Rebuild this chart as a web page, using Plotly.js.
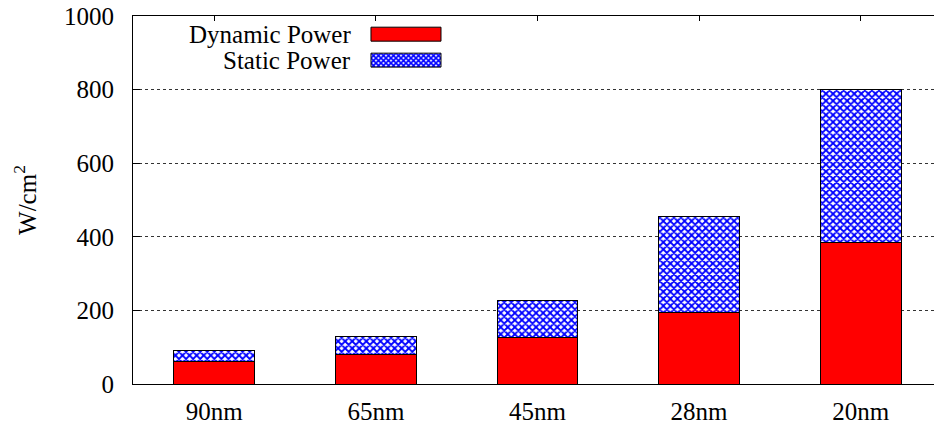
<!DOCTYPE html>
<html>
<head>
<meta charset="utf-8">
<script src="https://cdn.plot.ly/plotly-3.0.1.min.js"></script>
<style>html,body{margin:0;padding:0;background:#fff;}#chart{width:934px;height:427px;}</style>
</head>
<body>
<div id="chart"></div>
<script>
const categories = ["90nm", "65nm", "45nm", "28nm", "20nm"];
const dynamicPower = [60, 81, 126, 195, 385];
const staticPower = [30, 48, 102, 260, 415];
const seriesNames = ["Dynamic Power", "Static Power"];
const yTicks = [0, 200, 400, 600, 800, 1000];

const FONT = "Liberation Serif";
const FS = 25;

const traces = [
  {
    type: "bar", x: categories, y: dynamicPower, name: seriesNames[0],
    width: 0.5,
    marker: {color: "#ff0000", line: {color: "#000000", width: 1}},
    showlegend: false, hoverinfo: "skip"
  },
  {
    type: "bar", x: categories, y: staticPower, name: seriesNames[1],
    width: 0.5,
    marker: {
      color: "#ffffff",
      line: {color: "#000000", width: 1},
      pattern: {shape: "x", fgcolor: "#0000ff", bgcolor: "#ffffff", size: 5, solidity: 0.6}
    },
    showlegend: false, hoverinfo: "skip"
  }
];

const svg = "<svg xmlns='http://www.w3.org/2000/svg' width='70' height='14'><defs><pattern id='p' width='5' height='5' patternUnits='userSpaceOnUse'><rect width='5' height='5' fill='white'/><path d='M0,0L5,5M5,0L0,5' stroke='blue' stroke-width='1.6'/></pattern></defs><rect width='70' height='14' fill='url(#p)'/></svg>";
const svgUri = "data:image/svg+xml;charset=utf-8," + encodeURIComponent(svg);

const layout = {
  width: 934, height: 427,
  margin: {l: 133, r: 0, t: 15.5, b: 43},
  paper_bgcolor: "#ffffff", plot_bgcolor: "#ffffff",
  barmode: "stack",
  font: {family: FONT, size: FS, color: "#000000"},
  showlegend: false,
  xaxis: {
    type: "category",
    range: [-0.503, 4.454],
    showline: true, linecolor: "#000000", linewidth: 1,
    mirror: "ticks",
    ticks: "inside", ticklen: 5, tickcolor: "#000000",
    showgrid: false, zeroline: false,
    layer: "below traces",
    tickfont: {family: FONT, size: FS, color: "#000000"},
    ticklabelstandoff: 5
  },
  yaxis: {
    range: [0, 1000],
    tickvals: yTicks,
    showline: true, linecolor: "#000000", linewidth: 1,
    mirror: false,
    ticks: "inside", ticklen: 7, tickcolor: "#000000",
    showgrid: true, gridcolor: "#333333", gridwidth: 1, griddash: "dot",
    zeroline: false,
    tickfont: {family: FONT, size: FS, color: "#000000"},
    ticklabelstandoff: 13,
    title: {text: "W/cm<sup>2</sup>", font: {family: FONT, size: FS, color: "#000000"}, standoff: 20}
  },
  annotations: [
    {xref: "paper", yref: "paper", x: 0.2747, y: 0.9498, xanchor: "right", yanchor: "middle",
     text: seriesNames[0], showarrow: false, font: {family: FONT, size: FS, color: "#000000"}},
    {xref: "paper", yref: "paper", x: 0.2747, y: 0.8792, xanchor: "right", yanchor: "middle",
     text: seriesNames[1], showarrow: false, font: {family: FONT, size: FS, color: "#000000"}}
  ],
  images: [
    {source: svgUri, xref: "paper", yref: "paper", x: 0.2971, y: 0.8990,
     sizex: 0.0874, sizey: 0.0379, sizing: "stretch", xanchor: "left", yanchor: "top", layer: "above"}
  ],
  shapes: [
    {type: "rect", xref: "paper", yref: "paper", x0: 0.2971, x1: 0.3845, y0: 0.9316, y1: 0.9696,
     fillcolor: "#ff0000", line: {color: "#000000", width: 1}},
    {type: "rect", xref: "paper", yref: "paper", x0: 0.2971, x1: 0.3845, y0: 0.8611, y1: 0.8990,
     fillcolor: "rgba(0,0,0,0)", line: {color: "#000000", width: 1}}
  ]
};

Plotly.newPlot("chart", traces, layout, {displayModeBar: false, staticPlot: true});
</script>
</body>
</html>
